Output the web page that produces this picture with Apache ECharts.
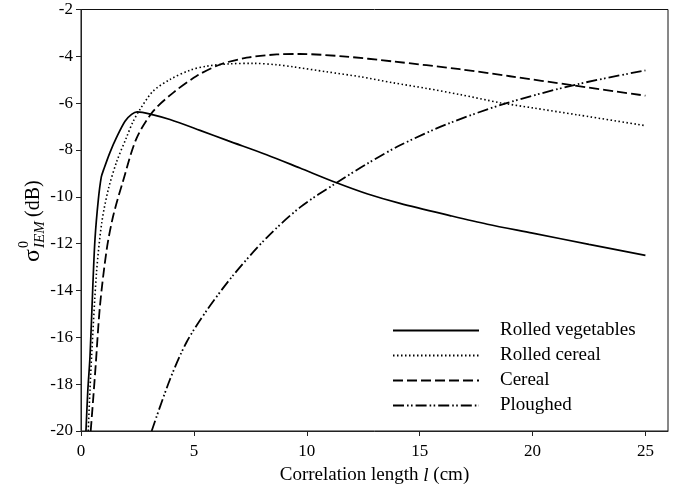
<!DOCTYPE html>
<html>
<head>
<meta charset="utf-8">
<script src="https://cdn.jsdelivr.net/npm/echarts@6/dist/echarts.min.js"></script>
<style>html,body{margin:0;padding:0;background:#fff}#c{width:685px;height:490px}</style>
</head>
<body>
<div id="c"></div>
<script>
// ---- data ----
var xTicks = [0, 5, 10, 15, 20, 25];
var yTicks = [-20, -18, -16, -14, -12, -10, -8, -6, -4, -2];

var vegL = [0.22, 0.3, 0.4, 0.52, 0.62, 0.77, 0.9, 1.0, 1.28, 1.58, 1.95, 2.24, 2.49, 3.2, 3.94, 5.27, 6.5, 8.22, 9.7, 11.32, 12.7, 14.13, 16.34, 18, 20, 22.5, 25];
var vegV = [-20, -18.3, -16.8, -13.9, -11.8, -10.1, -9.15, -8.85, -8.11, -7.45, -6.77, -6.48, -6.37, -6.5, -6.7, -7.16, -7.6, -8.2, -8.77, -9.4, -9.88, -10.28, -10.8, -11.17, -11.55, -12.03, -12.5];

var rcL = [0.32, 0.4, 0.47, 0.69, 0.92, 1.21, 1.58, 2.02, 2.3, 2.61, 3.2, 3.94, 4.83, 5.57, 6.6, 7.63, 8.67, 9.4, 10.88, 12.36, 13.83, 15.31, 16.78, 18.56, 20, 22, 25];
var rcV = [-20, -18.2, -16.8, -13.2, -11.1, -9.68, -8.5, -7.45, -6.8, -6.27, -5.48, -4.99, -4.59, -4.42, -4.32, -4.3, -4.36, -4.45, -4.66, -4.87, -5.13, -5.37, -5.63, -5.98, -6.2, -6.5, -6.96];

var cerL = [0.43, 0.55, 0.65, 0.84, 1.14, 1.43, 1.87, 2.46, 3.2, 4.09, 5.12, 6.16, 7.34, 8.67, 9.7, 11.6, 13.83, 16.78, 19, 21.8, 25];
var cerV = [-20, -18.5, -17.2, -14.66, -12.24, -10.8, -9.3, -7.5, -6.34, -5.55, -4.84, -4.35, -4.06, -3.92, -3.9, -4.0, -4.22, -4.55, -4.85, -5.24, -5.68];

var plL = [3.13, 3.94, 4.68, 5.57, 6.74, 8.22, 9.7, 11.32, 12.65, 14.13, 16.2, 18.85, 21.95, 25];
var plV = [-20, -17.8, -16.2, -14.85, -13.35, -11.75, -10.45, -9.4, -8.6, -7.8, -6.9, -6.0, -5.2, -4.6];

var names = ['Rolled vegetables', 'Rolled cereal', 'Cereal', 'Ploughed'];

function pairs(xs, ys) { return xs.map(function (x, i) { return [x, ys[i]]; }); }

var FONT = 'Liberation Serif';
var chart = echarts.init(document.getElementById('c'), null, {renderer: 'canvas'});

function mk(name, data, type, width) {
  return {
    name: name, type: 'line', data: data, showSymbol: false, symbol: 'none',
    smooth: 0.3,
    lineStyle: {color: '#000', width: width, type: type},
    itemStyle: {color: '#000'},
    emphasis: {disabled: true}, animation: false
  };
}

chart.setOption({
  animation: false,
  grid: {left: 81, top: 9.5, right: 17, bottom: 58, show: true, borderColor: '#111', borderWidth: 1},
  xAxis: {
    type: 'value', min: 0, max: 26, interval: 5,
    axisLine: {show: true, lineStyle: {color: '#222', width: 1}},
    axisTick: {show: true, inside: false, length: 5, customValues: xTicks, lineStyle: {color: '#222'}},
    axisLabel: {customValues: xTicks, color: '#000', fontFamily: FONT, fontSize: 17, margin: 12},
    splitLine: {show: false},
    name: 'Correlation length {i|l} (cm)', nameLocation: 'middle', nameGap: 35,
    nameTextStyle: {color: '#000', fontFamily: FONT, fontSize: 19,
      rich: {i: {fontStyle: 'italic', fontFamily: FONT, fontSize: 19, color: '#000'}}}
  },
  yAxis: {
    type: 'value', min: -20, max: -2, interval: 2,
    axisLine: {show: true, lineStyle: {color: '#222', width: 1}},
    axisTick: {show: true, inside: false, length: 5, lineStyle: {color: '#222'}},
    axisLabel: {color: '#000', fontFamily: FONT, fontSize: 17, margin: 8},
    splitLine: {show: false}
  },
  legend: {
    orient: 'vertical', left: 387, top: 316, itemWidth: 86, itemHeight: 14, itemGap: 6,
    itemStyle: {opacity: 0, borderWidth: 0},
    textStyle: {color: '#000', fontFamily: FONT, fontSize: 19, padding: [0, 0, 0, 16]},
    data: names, selectedMode: false
  },
  series: [
    mk(names[0], pairs(vegL, vegV), 'solid', 1.7),
    mk(names[1], pairs(rcL, rcV), [1.5, 2.5], 1.6),
    mk(names[2], pairs(cerL, cerV), [10, 4], 1.8),
    mk(names[3], pairs(plL, plV), [11, 3, 1.6, 2.4, 1.6, 3], 1.8)
  ],
  graphic: [{
    type: 'group', x: 33, y: 262, rotation: Math.PI / 2,
    children: [
      {type: 'text', x: 0, y: 0, style: {text: 'σ', fontFamily: FONT, fontSize: 24, fill: '#000', verticalAlign: 'middle', align: 'left'}},
      {type: 'text', x: 14, y: -9, style: {text: '0', fontFamily: FONT, fontSize: 14, fill: '#000', verticalAlign: 'middle', align: 'left'}},
      {type: 'text', x: 14, y: 7, style: {text: 'IEM', fontFamily: FONT, fontStyle: 'italic', fontSize: 15, fill: '#000', verticalAlign: 'middle', align: 'left'}},
      {type: 'text', x: 45, y: 1, style: {text: '(dB)', fontFamily: FONT, fontSize: 20, fill: '#000', verticalAlign: 'middle', align: 'left'}}
    ]
  }]
});
</script>
</body>
</html>
